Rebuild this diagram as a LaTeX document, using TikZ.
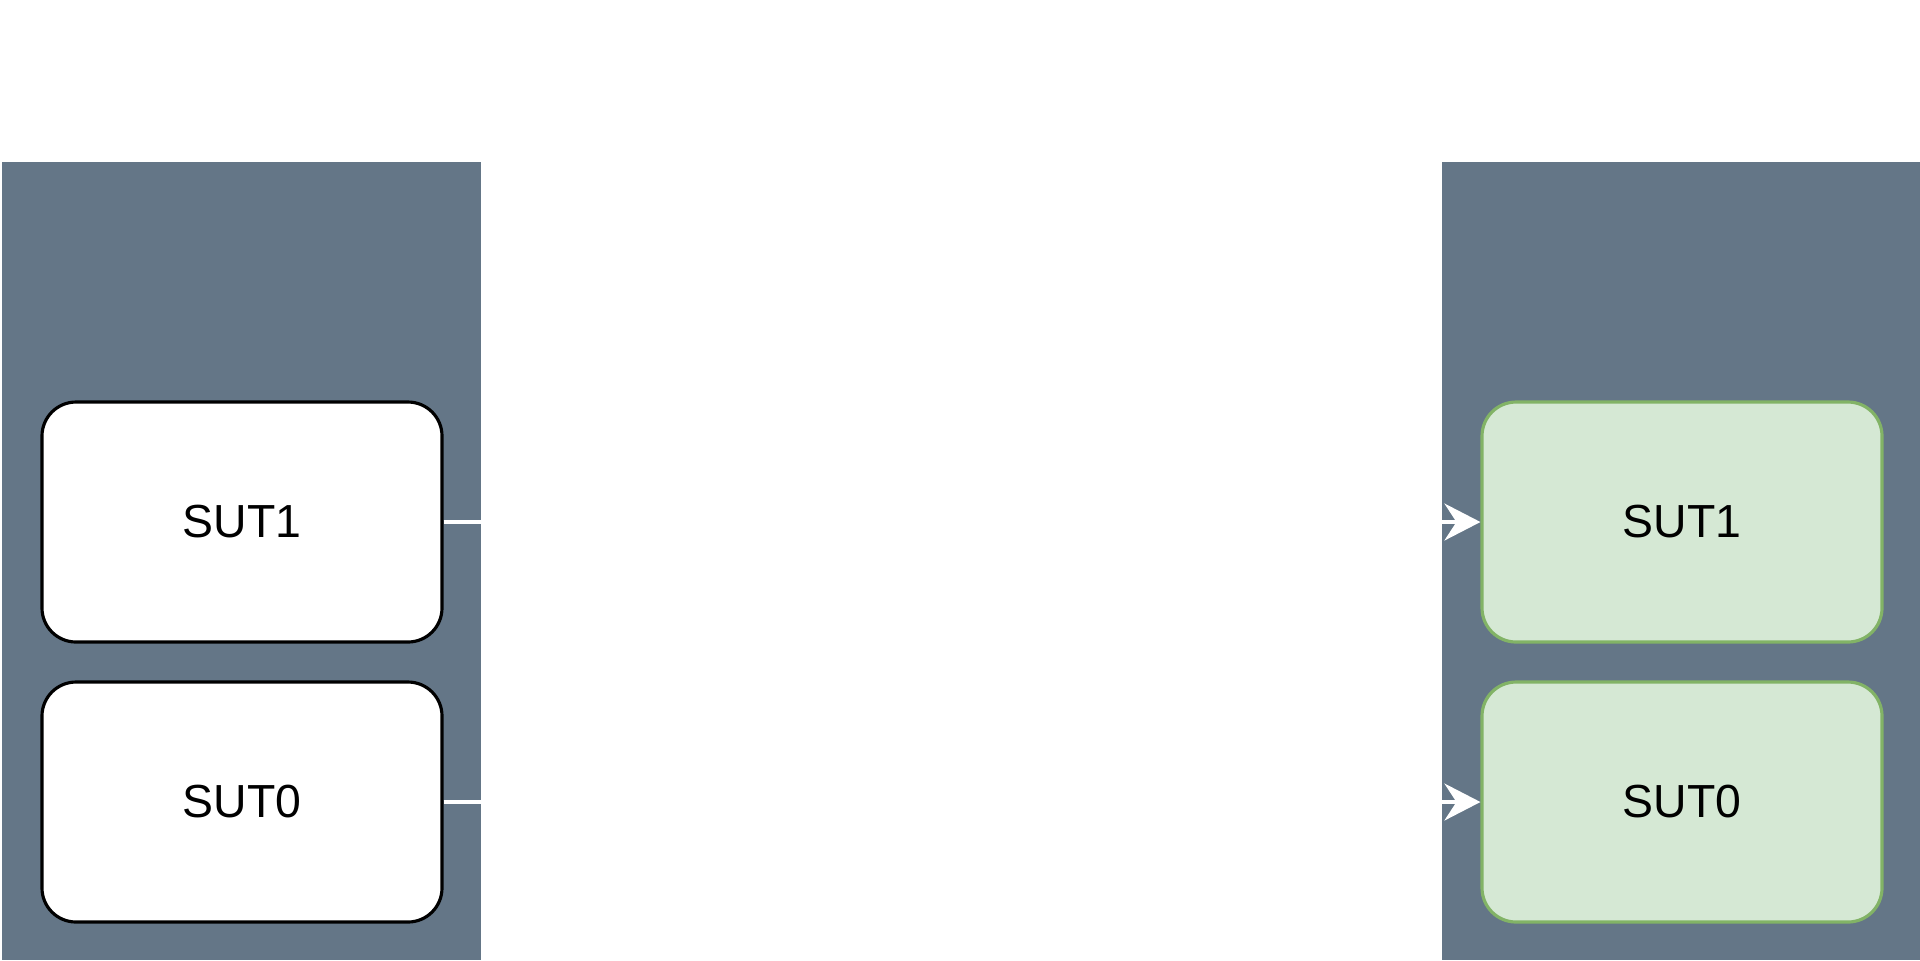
\documentclass[tikz,border=0pt]{standalone}
\usepackage{fontspec}
\setmainfont{Liberation Sans}
\usetikzlibrary{arrows.meta}
\definecolor{slate}{HTML}{647687}
\definecolor{leaf}{HTML}{D5E8D4}
\definecolor{leafline}{HTML}{82B366}
\tikzset{
  sut/.style={rectangle,rounded corners=0.34cm,minimum width=4cm,minimum height=2.4cm,
    line width=0.9pt,font=\fontsize{13.2}{16}\selectfont},
  moved/.style={sut,draw=leafline,fill=leaf},
  kept/.style={sut,draw=black,fill=white}
}
\begin{document}
\begin{tikzpicture}[->,>={Stealth[length=0.36cm,width=0.37cm,inset=0.12cm]}]
      \useasboundingbox (0,0) rectangle (19.2,-9.6);
      \fill[slate] (0.02,-1.62) rectangle (4.81,-9.6);
      \fill[slate] (14.42,-1.62) rectangle (19.2,-9.6);
      \node[kept] (a1) at (2.42,-5.22) {SUT1}; \node[moved] (b1) at (16.82,-5.22) {SUT1};
      \node[kept] (a0) at (2.42,-8.02) {SUT0}; \node[moved] (b0) at (16.82,-8.02) {SUT0};
      \draw[white,line width=0.9pt] (a1) -- (b1);
      \draw[white,line width=0.9pt] (a0) -- (b0);
    \end{tikzpicture}
\end{document}
